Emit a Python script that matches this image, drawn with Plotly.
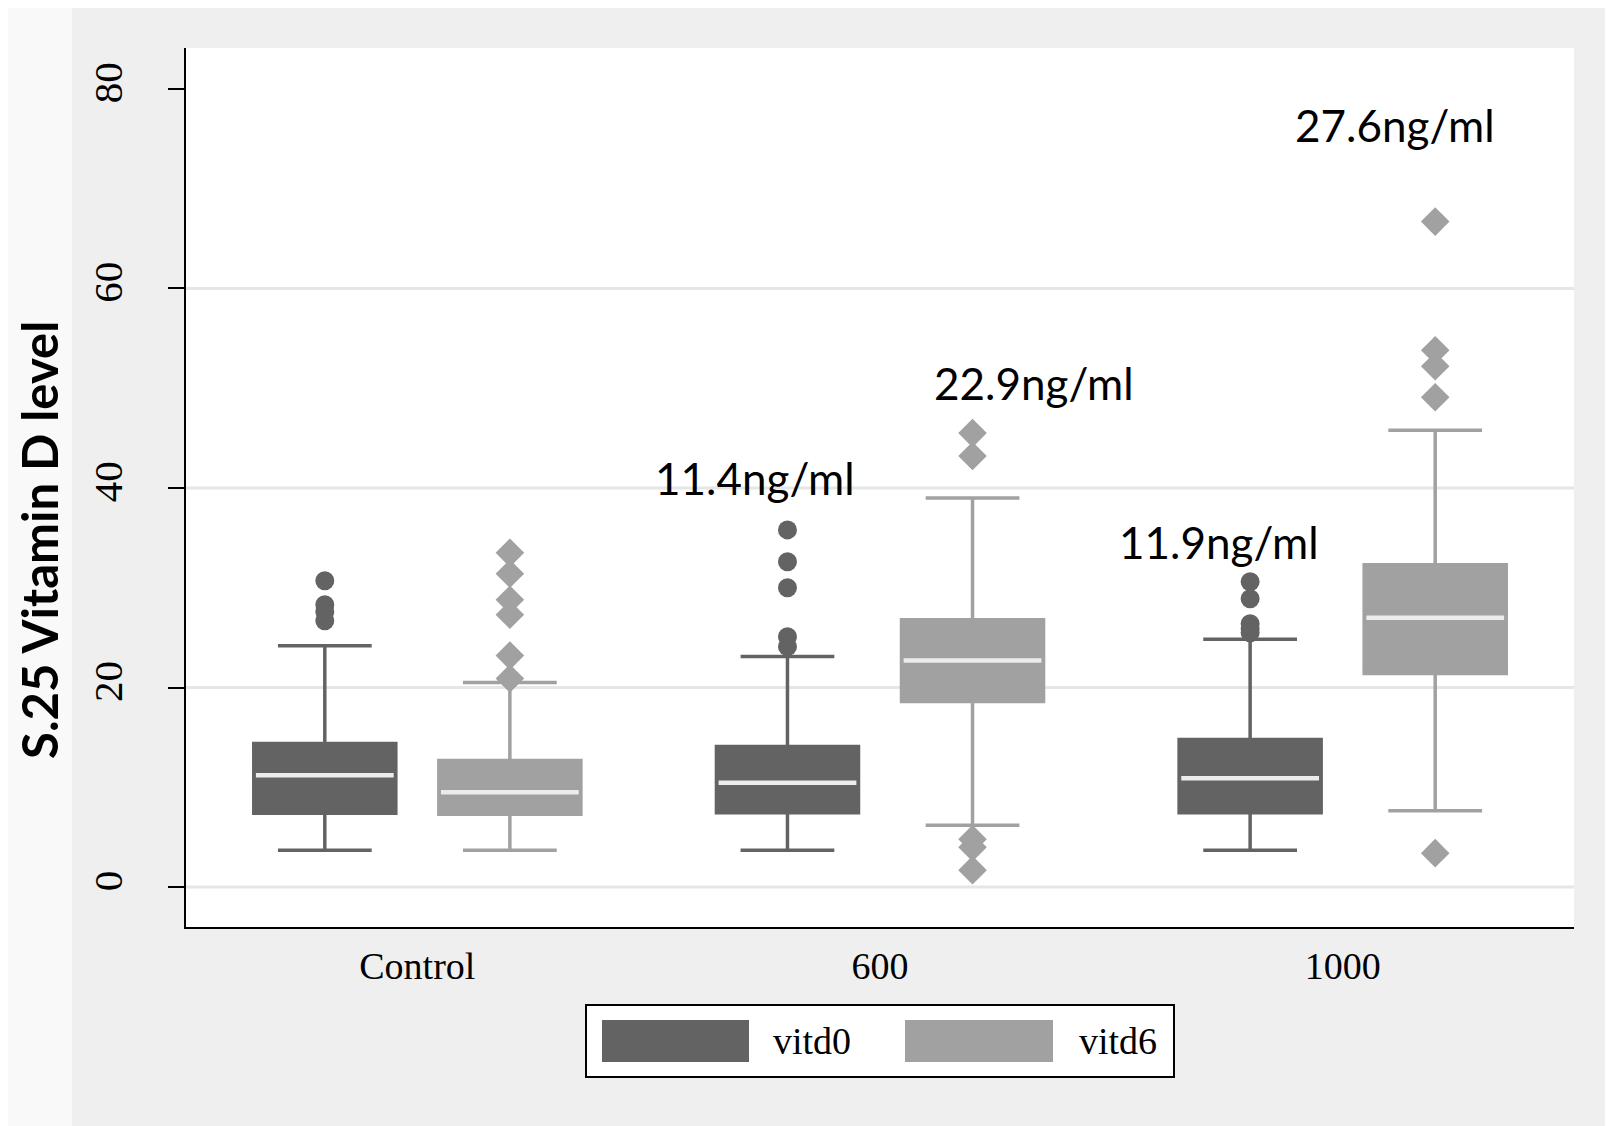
import plotly.graph_objects as go

# ---------------- data ----------------
CATEGORIES = ["Control", "600", "1000"]
SERIES = ["vitd0", "vitd6"]

VITD0_Q1 = [7.4, 7.45, 7.45]
VITD0_MEDIAN = [11.2, 10.45, 10.9]
VITD0_Q3 = [14.4, 14.1, 14.8]
VITD0_LOW = [3.7, 3.7, 3.7]
VITD0_HIGH = [24.2, 23.1, 24.85]
VITD0_OUTLIERS = [
    [30.7, 28.3, 27.6, 26.7],
    [35.8, 32.6, 30.0, 25.1, 24.1],
    [30.6, 28.9, 26.4, 25.9, 25.5],
]

VITD6_Q1 = [7.3, 18.6, 21.4]
VITD6_MEDIAN = [9.5, 22.7, 27.0]
VITD6_Q3 = [12.7, 26.8, 32.3]
VITD6_LOW = [3.7, 6.2, 7.65]
VITD6_HIGH = [20.5, 39.0, 45.8]
VITD6_OUTLIERS = [
    [33.5, 31.4, 28.8, 27.3, 23.2, 20.9],
    [45.5, 43.2, 4.8, 4.0, 1.7],
    [66.7, 53.8, 52.2, 49.1, 3.4],
]

LABEL_TEXT = ["11.4ng/ml", "22.9ng/ml", "11.9ng/ml", "27.6ng/ml"]
Y_TICKS = [0, 20, 40, 60, 80]
GRID_VALUES = [0, 20, 40, 60]

# ---------------- styling / layout constants ----------------
PAGE_OFF = 8  # default body margin of the html page
PAGE_W, PAGE_H = 1613, 1126
W, H = PAGE_W - PAGE_OFF, PAGE_H - PAGE_OFF
PLOT_L, PLOT_R, PLOT_T, PLOT_B = 186, 1574, 48, 927  # page pixel coordinates
L, R, T, B = PLOT_L - PAGE_OFF, PAGE_W - PLOT_R, PLOT_T - PAGE_OFF, PAGE_H - PLOT_B
PW, PH = PLOT_R - PLOT_L, PLOT_B - PLOT_T
DARK, LIGHT = "#636363", "#a1a1a1"
MEDIAN_COLOR = "#ececec"
OFFSET = 0.2
BOX_W = 0.307
SERIF = "Liberation Serif, Times New Roman, serif"
SANS = "Lato, Carlito, Calibri, sans-serif"

# annotation positions (data coords)
LABEL_X = [0.73, 1.333, 1.733, 2.113]
LABEL_Y = [41.0, 50.5, 34.6, 76.4]


def px_x(px):
    """page x pixel -> paper coordinate"""
    return (px - PLOT_L) / PW


def px_y(py):
    """page y pixel -> paper coordinate"""
    return (PLOT_B - py) / PH


fig = go.Figure()

series_def = [
    ("vitd0", DARK, -OFFSET, VITD0_Q1, VITD0_MEDIAN, VITD0_Q3, VITD0_LOW, VITD0_HIGH, VITD0_OUTLIERS, "circle", 19),
    ("vitd6", LIGHT, OFFSET, VITD6_Q1, VITD6_MEDIAN, VITD6_Q3, VITD6_LOW, VITD6_HIGH, VITD6_OUTLIERS, "diamond", 22),
]

for name, color, off, q1, med, q3, lo, hi, outs, sym, msize in series_def:
    xs = [i + off for i in range(len(CATEGORIES))]
    fig.add_trace(go.Box(
        name=name, x=xs, q1=q1, median=med, q3=q3,
        lowerfence=lo, upperfence=hi,
        width=BOX_W, whiskerwidth=0.66,
        fillcolor=color, line=dict(color=color, width=3.5),
        boxpoints=False, showlegend=False, hoverinfo="skip",
    ))
    # white median lines
    mx, my = [], []
    for x, m in zip(xs, med):
        mx += [x - BOX_W / 2 * 0.97, x + BOX_W / 2 * 0.97, None]
        my += [m, m, None]
    fig.add_trace(go.Scatter(x=mx, y=my, mode="lines",
                             line=dict(color=MEDIAN_COLOR, width=4.5),
                             showlegend=False, hoverinfo="skip"))
    # outliers
    ox, oy = [], []
    for x, vals in zip(xs, outs):
        ox += [x] * len(vals)
        oy += vals
    fig.add_trace(go.Scatter(x=ox, y=oy, mode="markers",
                             marker=dict(symbol=sym, size=msize, color=color,
                                         line=dict(width=0)),
                             showlegend=False, hoverinfo="skip"))

shapes = []
# gridlines
for g in GRID_VALUES:
    shapes.append(dict(type="line", xref="paper", x0=0, x1=1, yref="y", y0=g, y1=g,
                       line=dict(color="#e6e6e6", width=3), layer="below"))
# outer light strip (left)
shapes.append(dict(type="rect", xref="paper", yref="paper",
                   x0=px_x(0), x1=px_x(72), y0=px_y(PAGE_H), y1=px_y(0),
                   fillcolor="#f9f9f9", line=dict(width=0), layer="below"))
# legend box
shapes.append(dict(type="rect", xref="paper", yref="paper",
                   x0=px_x(586), x1=px_x(1174), y0=px_y(1077), y1=px_y(1005),
                   fillcolor="white", line=dict(color="black", width=2)))
legend_items = [(SERIES[0], DARK, 602, 749, 771), (SERIES[1], LIGHT, 905, 1053, 1077)]
annotations = []
for name, color, sx0, sx1, tx in legend_items:
    shapes.append(dict(type="rect", xref="paper", yref="paper",
                       x0=px_x(sx0), x1=px_x(sx1), y0=px_y(1062), y1=px_y(1020),
                       fillcolor=color, line=dict(width=0)))
    annotations.append(dict(text=name, xref="paper", yref="paper", x=px_x(tx), y=px_y(1041),
                            xanchor="left", yanchor="middle", showarrow=False,
                            font=dict(family=SERIF, size=38, color="black")))

for txt, x, y in zip(LABEL_TEXT, LABEL_X, LABEL_Y):
    annotations.append(dict(text=txt, x=x, y=y, xref="x", yref="y", showarrow=False,
                            xanchor="center", yanchor="middle",
                            font=dict(family=SANS, size=44, color="black")))

# y axis title
annotations.append(dict(text="<b>S.25 Vitamin D level</b>", xref="paper", yref="paper",
                        x=px_x(PAGE_OFF + 1), y=px_y(540), textangle=-90, showarrow=False,
                        xanchor="left", yanchor="middle", borderpad=0,
                        font=dict(family=SANS, size=49, color="black")))

fig.update_layout(
    width=W, height=H,
    margin=dict(l=L, r=R, t=T, b=B, pad=0),
    paper_bgcolor="#efefef", plot_bgcolor="white",
    shapes=shapes, annotations=annotations, showlegend=False,
    xaxis=dict(range=[-0.5, 2.5], tickvals=list(range(len(CATEGORIES))), ticktext=CATEGORIES,
               showgrid=False, zeroline=False, showline=True, linecolor="black", linewidth=2,
               ticks="", ticklabelstandoff=4,
               tickfont=dict(family=SERIF, size=38, color="black"), fixedrange=True),
    yaxis=dict(range=[-4, 84.1], tickvals=Y_TICKS, showgrid=False, zeroline=False,
               showline=True, linecolor="black", linewidth=2,
               ticks="outside", ticklen=16, tickwidth=2, tickcolor="black",
               tickangle=-90, ticklabelstandoff=30,
               tickfont=dict(family=SERIF, size=41, color="black"), fixedrange=True),
)

fig.write_html("out.html")
